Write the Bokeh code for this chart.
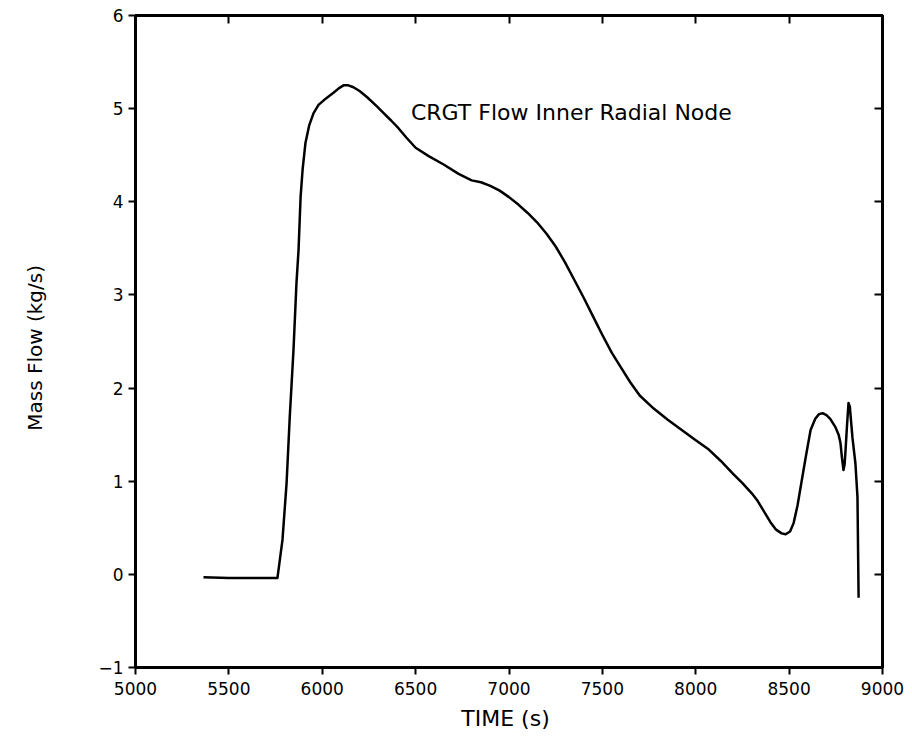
from bokeh.plotting import figure
from bokeh.models import Range1d, FixedTicker, LinearAxis, Label
from bokeh.embed import file_html
from bokeh.resources import INLINE

time_s = [5364, 5500, 5650, 5760, 5787, 5809, 5826, 5846, 5862, 5873, 5884, 5895,
          5910, 5930, 5953, 5980, 6020, 6060, 6090, 6114, 6140, 6167, 6200, 6242,
          6290, 6330, 6370, 6408, 6450, 6500, 6570, 6650, 6730, 6800, 6850, 6900,
          6950, 7000, 7050, 7100, 7150, 7200, 7250, 7300, 7350, 7400, 7450, 7500,
          7550, 7600, 7650, 7700, 7775, 7850, 7925, 8000, 8070, 8133, 8200, 8250,
          8300, 8331, 8370, 8400, 8430, 8460, 8481, 8505, 8524, 8545, 8561, 8590,
          8615, 8640, 8660, 8679, 8700, 8720, 8748, 8765, 8775, 8783, 8791, 8797,
          8802, 8810, 8818, 8825, 8839, 8855, 8866, 8872]
mass_flow = [-0.03, -0.04, -0.04, -0.04, 0.37, 0.98, 1.69, 2.41, 3.13, 3.48, 4.05, 4.35,
             4.63, 4.82, 4.95, 5.04, 5.11, 5.17, 5.22, 5.25, 5.25, 5.23, 5.19, 5.12,
             5.03, 4.95, 4.87, 4.79, 4.69, 4.58, 4.49, 4.40, 4.30, 4.23, 4.21, 4.17,
             4.12, 4.05, 3.97, 3.88, 3.78, 3.66, 3.52, 3.35, 3.16, 2.97, 2.77, 2.57,
             2.38, 2.22, 2.06, 1.92, 1.78, 1.66, 1.55, 1.44, 1.34, 1.22, 1.08, 0.98,
             0.87, 0.79, 0.66, 0.56, 0.48, 0.44, 0.43, 0.46, 0.55, 0.74, 0.93, 1.27,
             1.55, 1.67, 1.72, 1.73, 1.71, 1.67, 1.58, 1.50, 1.41, 1.25, 1.12, 1.18,
             1.33, 1.60, 1.84, 1.80, 1.47, 1.19, 0.83, -0.25]
x_ticks = [5000, 5500, 6000, 6500, 7000, 7500, 8000, 8500, 9000]
y_ticks = [-1, 0, 1, 2, 3, 4, 5, 6]
annotation = "CRGT Flow Inner Radial Node"

FONT = "DejaVu Sans"

p = figure(width=912, height=739, output_backend="svg", toolbar_location=None,
           x_range=Range1d(5000, 9000), y_range=Range1d(-1, 6),
           min_border_left=135, min_border_right=30, min_border_top=15, min_border_bottom=72)
p.grid.visible = False
p.background_fill_color = "white"
p.border_fill_color = "white"
p.outline_line_color = "black"
p.outline_line_width = 3

p.line(time_s, mass_flow, line_color="black", line_width=2.5, line_join="round")

for ax in (p.xaxis[0], p.yaxis[0]):
    ax.axis_line_width = 3
    ax.major_tick_line_width = 2
    ax.major_tick_in = 0
    ax.major_tick_out = 7
    ax.minor_tick_line_color = None
    ax.major_label_text_font = FONT
    ax.major_label_text_font_size = "17px"
    ax.major_label_text_color = "black"
    ax.axis_label_text_font = FONT
    ax.axis_label_text_font_style = "normal"
    ax.axis_label_text_color = "black"

p.xaxis[0].ticker = FixedTicker(ticks=x_ticks)
p.xaxis[0].major_label_standoff = 7
p.yaxis[0].ticker = FixedTicker(ticks=y_ticks)
p.xaxis[0].axis_label = "TIME  (s)"
p.xaxis[0].axis_label_text_font_size = "22px"
p.xaxis[0].axis_label_standoff = 8
p.yaxis[0].axis_label = "Mass  Flow  (kg/s)"
p.yaxis[0].axis_label_text_font_size = "20px"
p.yaxis[0].axis_label_standoff = 48

empty_x = {t: "" for t in x_ticks}
empty_y = {t: "" for t in y_ticks}
top = LinearAxis(ticker=FixedTicker(ticks=x_ticks), major_label_overrides=empty_x,
                 major_tick_in=8, major_tick_out=0, minor_tick_line_color=None,
                 axis_line_width=3, major_tick_line_width=2, major_label_standoff=0)
right = LinearAxis(ticker=FixedTicker(ticks=y_ticks), major_label_overrides=empty_y,
                   major_tick_in=8, major_tick_out=0, minor_tick_line_color=None,
                   axis_line_width=3, major_tick_line_width=2, major_label_standoff=0)
p.add_layout(top, "above")
p.add_layout(right, "right")

p.add_layout(Label(x=6475, y=4.96, text=annotation, text_font=FONT, text_font_size="22px",
                   text_color="black", text_baseline="middle"))

open("out.html", "w").write(file_html(p, INLINE))
